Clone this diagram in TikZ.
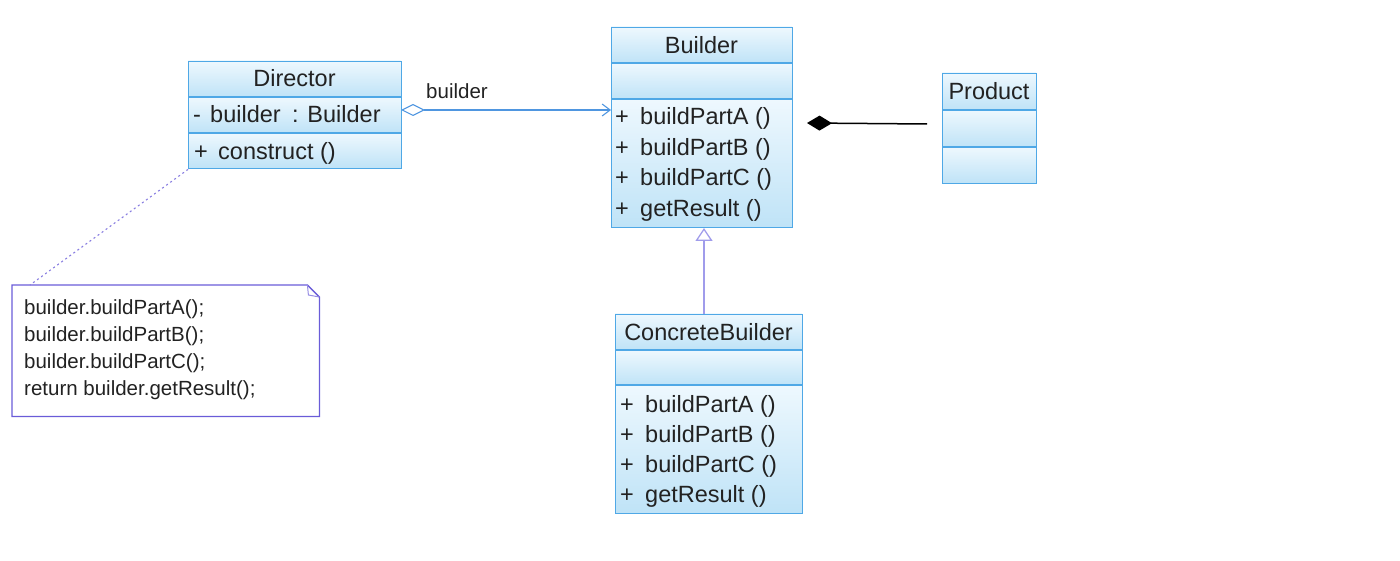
\documentclass[tikz,border=0pt]{standalone}
\usepackage{fontspec}
\setmainfont{Liberation Sans}
\usetikzlibrary{arrows.meta,calc}
\definecolor{clsborder}{HTML}{4FA8E6}
\definecolor{clstop}{HTML}{EEF8FE}
\definecolor{clsbot}{HTML}{BFE3F7}
\definecolor{assoc}{HTML}{4F96E0}
\definecolor{inhcol}{HTML}{A09CEB}
\definecolor{notecol}{HTML}{6A5CD8}
\definecolor{txt}{HTML}{222222}
\begin{document}
\begin{tikzpicture}[x=1pt,y=-1pt,
  cls/.style={draw=clsborder,line width=1.4pt,rectangle,anchor=north west,inner sep=0pt},
  comp/.style={top color=clstop,bottom color=clsbot,draw=none},
  sep/.style={draw=clsborder,line width=1.4pt},
  ttl/.style={font=\fontsize{23.5}{27}\selectfont,text=txt,inner sep=0pt,text height=15pt,text depth=1pt,yshift=-2pt},
  mem/.style={font=\fontsize{23.5}{27}\selectfont,text=txt,inner sep=0pt,anchor=west,text height=15pt,text depth=1pt,yshift=-2pt},
  notetxt/.style={font=\fontsize{20.5}{27}\selectfont,text=txt,inner sep=0pt,anchor=north west,align=left},
  lbl/.style={font=\fontsize{20.5}{24}\selectfont,text=txt,inner sep=0pt}
]
\useasboundingbox (0,0) rectangle (1400,561);

% ---------- Director ----------
\shade[comp] (188,61) rectangle (401,97);
\shade[comp] (188,97) rectangle (401,133);
\shade[comp] (188,133) rectangle (401,168);
\node[cls,minimum width=213pt,minimum height=107pt] (director) at (188,61) {};
\draw[sep] (188,97) -- (401,97);
\draw[sep] (188,133) -- (401,133);
\node[ttl] (directorT) at (294.5,78) {Director};
\node[mem] (dA1) at (193,114) {-};
\node[mem] (dA2) at (210,114) {builder\hspace{5pt} : Builder};
\node[mem] (dM1) at (194,151) {+};
\node[mem] (dM2) at (218,151) {construct ()};

% ---------- Builder ----------
\shade[comp] (611,27) rectangle (792,63);
\shade[comp] (611,63) rectangle (792,99);
\shade[comp] (611,99) rectangle (792,227);
\node[cls,minimum width=181pt,minimum height=200pt] (builder) at (611,27) {};
\draw[sep] (611,63) -- (792,63);
\draw[sep] (611,99) -- (792,99);
\node[ttl] (builderT) at (701.5,45) {Builder};
\node[mem] (bp1) at (615,116) {+};
\node[mem] (bm1) at (640,116) {buildPartA ()};
\node[mem] (bp2) at (615,147) {+};
\node[mem] (bm2) at (640,147) {buildPartB ()};
\node[mem] (bp3) at (615,177) {+};
\node[mem] (bm3) at (640,177) {buildPartC ()};
\node[mem] (bp4) at (615,208) {+};
\node[mem] (bm4) at (640,208) {getResult ()};

% ---------- Product ----------
\shade[comp] (942,73) rectangle (1036,110);
\shade[comp] (942,110) rectangle (1036,147);
\shade[comp] (942,147) rectangle (1036,183);
\node[cls,minimum width=94pt,minimum height=110pt] (product) at (942,73) {};
\draw[sep] (942,110) -- (1036,110);
\draw[sep] (942,147) -- (1036,147);
\node[ttl] (productT) at (989,91) {Product};

% ---------- ConcreteBuilder ----------
\shade[comp] (615,314) rectangle (802,350);
\shade[comp] (615,350) rectangle (802,385);
\shade[comp] (615,385) rectangle (802,513);
\node[cls,minimum width=187pt,minimum height=199pt] (concrete) at (615,314) {};
\draw[sep] (615,350) -- (802,350);
\draw[sep] (615,385) -- (802,385);
\node[ttl] (concreteT) at (708.5,331) {ConcreteBuilder};
\node[mem] (cp1) at (620,403) {+};
\node[mem] (cm1) at (645,403) {buildPartA ()};
\node[mem] (cp2) at (620,433) {+};
\node[mem] (cm2) at (645,433) {buildPartB ()};
\node[mem] (cp3) at (620,463) {+};
\node[mem] (cm3) at (645,463) {buildPartC ()};
\node[mem] (cp4) at (620,493) {+};
\node[mem] (cm4) at (645,493) {getResult ()};

% ---------- Note ----------
\node[rectangle,anchor=north west,minimum width=307pt,minimum height=131pt,inner sep=0pt] (note) at (12,285) {};
\draw[notecol,line width=1.3pt]
  (note.north west) -- ($(note.north east)+(-12,0)$) -- ($(note.north east)+(0,12)$)
  -- (note.south east) -- (note.south west) -- cycle;
\draw[notecol!70,line width=1pt]
  ($(note.north east)+(-12,0)$) -- ($(note.north east)+(-11,10)$) -- ($(note.north east)+(0,12)$);
\node[notetxt] (notetext) at (24,299) {builder.buildPartA();\\builder.buildPartB();\\builder.buildPartC();\\return builder.getResult();};

% ---------- Connectors ----------
% aggregation Director -> Builder
\draw[assoc,line width=1.1pt,{Diamond[open,length=24pt,width=12pt,line width=1.1pt]}-{Straight Barb[length=8pt,width=12pt,line width=1.1pt]}]
  (401,110) -- (builder.west |- 0,110);
\node[lbl] (aggLabel) at (457,91) {builder};

% composition Product -> Builder
\coordinate (compEnd) at (807,123);
\coordinate (compStart) at (927,124);
\draw[black,line width=1.5pt,-{Diamond[fill=black,length=25pt,width=15pt]}]
  (compStart) -- (compEnd);

% inheritance ConcreteBuilder -> Builder
\coordinate (inhTip) at (704,228);
\draw[inhcol,line width=1.3pt,-{Triangle[open,fill=white,length=13pt,width=17pt,line width=1.3pt]}]
  (inhTip |- concrete.north) -- (inhTip);

% note anchor (dotted)
\coordinate (noteAnchor) at ($(note.north west)+(18,0)$);
\draw[notecol!80,line width=1.1pt,dash pattern=on 2pt off 3pt]
  (director.south west) -- (noteAnchor);
\end{tikzpicture}
\end{document}
